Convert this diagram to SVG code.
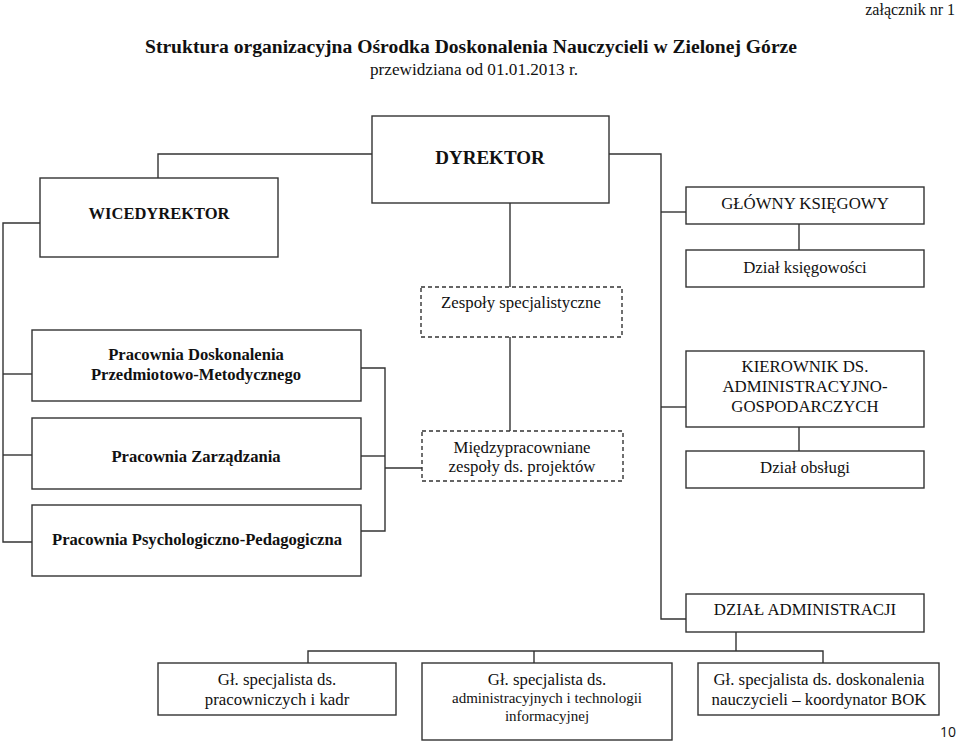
<svg xmlns="http://www.w3.org/2000/svg" width="960" height="743" viewBox="0 0 960 743">
<style>
.box{fill:#fff;stroke:#333;stroke-width:1.4}
.dash{fill:#fff;stroke:#333;stroke-width:1.4;stroke-dasharray:4 3}
.ln{fill:none;stroke:#333;stroke-width:1.4}
text{font-family:"Liberation Serif","Times New Roman",serif;fill:#111;text-anchor:middle}
.b{font-weight:bold;font-size:16.6px}
.r{font-size:16.8px}
.s{font-size:15px}
</style>
<rect width="960" height="743" fill="#fff"/>
<text x="955" y="15" style="text-anchor:end;font-size:16px">załącznik nr 1</text>
<text x="471" y="53" style="font-size:18px;font-weight:bold" textLength="652" lengthAdjust="spacingAndGlyphs">Struktura organizacyjna Ośrodka Doskonalenia Nauczycieli w Zielonej Górze</text>
<text x="474" y="75" style="font-size:16px" textLength="208" lengthAdjust="spacingAndGlyphs">przewidziana od 01.01.2013 r.</text>

<g id="connectors">
<polyline class="ln" points="372,154 158,154 158,178"/>
<polyline class="ln" points="609,154 661,154 661,619 686,619"/>
<line class="ln" x1="661" y1="212" x2="686" y2="212"/>
<line class="ln" x1="661" y1="407" x2="686" y2="407"/>
<line class="ln" x1="799" y1="224" x2="799" y2="250"/>
<line class="ln" x1="799" y1="427" x2="799" y2="451"/>
<line class="ln" x1="510" y1="203" x2="510" y2="287"/>
<line class="ln" x1="510" y1="337" x2="510" y2="431"/>
<polyline class="ln" points="40,223 3,223 3,542 32,542"/>
<line class="ln" x1="3" y1="374" x2="32" y2="374"/>
<line class="ln" x1="3" y1="455" x2="32" y2="455"/>
<polyline class="ln" points="361,368 385,368 385,531 361,531"/>
<line class="ln" x1="361" y1="456" x2="385" y2="456"/>
<line class="ln" x1="385" y1="468" x2="422" y2="468"/>
<line class="ln" x1="736" y1="632" x2="736" y2="651"/>
<polyline class="ln" points="308,663 308,651 823,651 823,663"/>
<line class="ln" x1="534" y1="651" x2="534" y2="663"/>
</g>

<g id="dyrektor"><rect class="box" x="372" y="116" width="237" height="87"/><text x="490" y="164" style="font-size:19px;font-weight:bold">DYREKTOR</text></g>
<g id="wicedyrektor"><rect class="box" x="40" y="178" width="238" height="79"/><text x="159" y="219" style="font-size:16.5px;font-weight:bold">WICEDYREKTOR</text></g>
<g id="glowny-ksiegowy"><rect class="box" x="686" y="187" width="238" height="37"/><text class="r" x="805" y="209">GŁÓWNY KSIĘGOWY</text></g>
<g id="dzial-ksiegowosci"><rect class="box" x="686" y="250" width="238" height="37"/><text class="r" x="805" y="273">Dział księgowości</text></g>
<g id="zespoly"><rect class="dash" x="421" y="287" width="201" height="50"/><text class="r" x="521" y="308">Zespoły specjalistyczne</text></g>
<g id="pracownia-doskonalenia"><rect class="box" x="32" y="330" width="329" height="71"/><text class="b" x="196" y="360">Pracownia Doskonalenia</text><text class="b" x="196" y="380">Przedmiotowo-Metodycznego</text></g>
<g id="pracownia-zarzadzania"><rect class="box" x="32" y="418" width="329" height="71"/><text class="b" x="196" y="462">Pracownia Zarządzania</text></g>
<g id="pracownia-psych"><rect class="box" x="32" y="505" width="329" height="71"/><text class="b" x="197" y="545">Pracownia Psychologiczno-Pedagogiczna</text></g>
<g id="miedzypracowniane"><rect class="dash" x="422" y="431" width="201" height="50"/><text class="r" x="522" y="453">Międzypracowniane</text><text class="r" x="522" y="472">zespoły ds. projektów</text></g>
<g id="kierownik"><rect class="box" x="686" y="351" width="238" height="76"/><text class="r" x="805" y="372">KIEROWNIK DS.</text><text class="r" x="805" y="392">ADMINISTRACYJNO-</text><text class="r" x="805" y="412">GOSPODARCZYCH</text></g>
<g id="dzial-obslugi"><rect class="box" x="686" y="451" width="238" height="37"/><text class="r" x="805" y="473">Dział obsługi</text></g>
<g id="dzial-administracji"><rect class="box" x="686" y="594" width="238" height="38"/><text class="r" x="805" y="615">DZIAŁ ADMINISTRACJI</text></g>
<g id="spec-kadr"><rect class="box" x="158" y="663" width="238" height="52"/><text class="r" x="277" y="685">Gł. specjalista ds.</text><text class="r" x="277" y="705">pracowniczych i kadr</text></g>
<g id="spec-it"><rect class="box" x="422" y="663" width="250" height="77"/><text class="r" x="547" y="685">Gł. specjalista ds.</text><text class="s" x="547" y="703">administracyjnych i technologii</text><text class="s" x="547" y="721">informacyjnej</text></g>
<g id="spec-bok"><rect class="box" x="698" y="663" width="241" height="52"/><text class="r" x="819" y="685">Gł. specjalista ds. doskonalenia</text><text class="r" x="819" y="705">nauczycieli – koordynator BOK</text></g>
<text x="956" y="737" style="text-anchor:end;font-family:'Open Sans','Liberation Sans',sans-serif;font-size:14px">10</text>
</svg>
